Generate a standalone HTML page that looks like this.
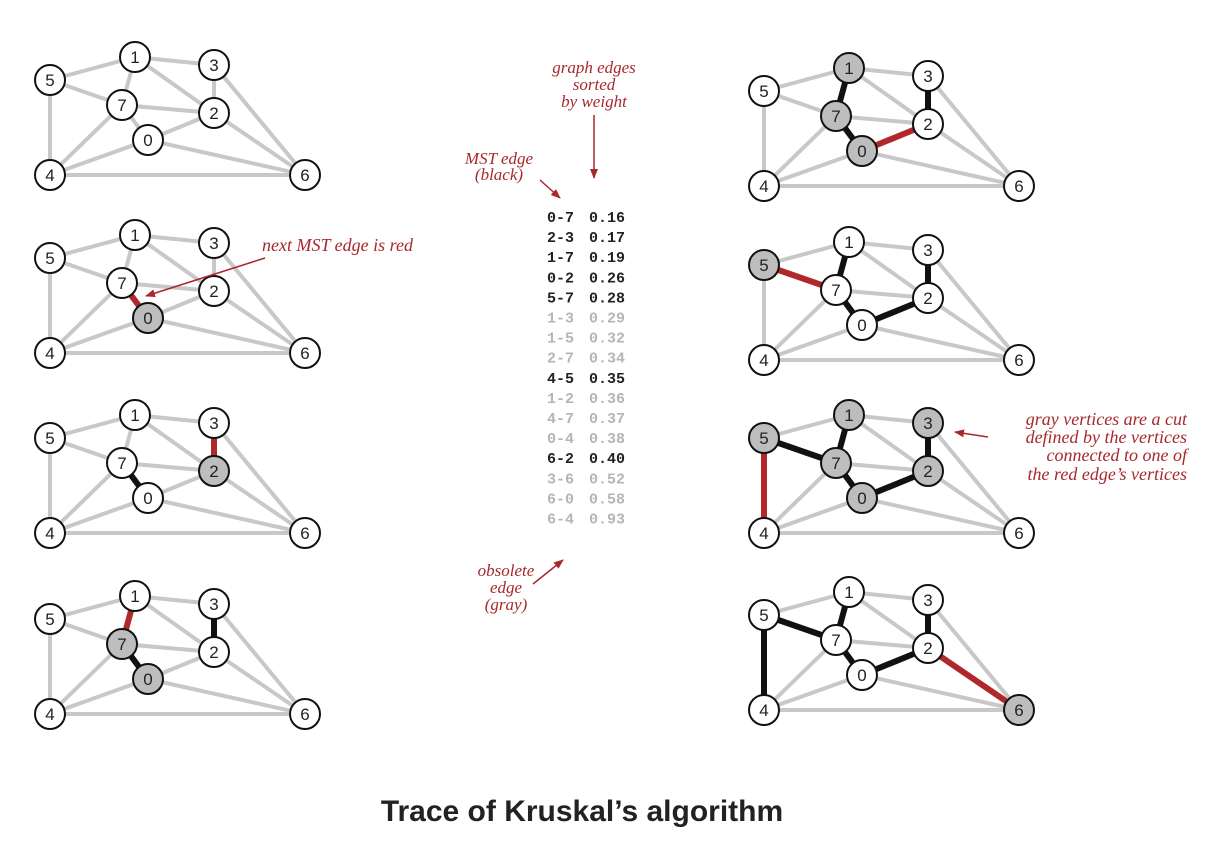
<!DOCTYPE html>
<html><head><meta charset="utf-8"><style>
body{margin:0;background:#fff;width:1214px;height:850px;overflow:hidden}
svg text{font-family:"Liberation Sans",sans-serif}
svg text.it{font-family:"Liberation Serif",serif;font-style:italic;fill:#a8282c;font-size:17px}
svg .tb text{font-family:"Liberation Mono",monospace;font-size:15px;font-weight:bold}
</style></head><body>
<svg width="1214" height="850" viewBox="0 0 1214 850" xmlns="http://www.w3.org/2000/svg">
<defs><marker id="ar" markerWidth="10" markerHeight="10" refX="9" refY="5" orient="auto" markerUnits="userSpaceOnUse"><path d="M0,1 L10,5 L0,9 z" fill="#a8282c"/></marker></defs>
<g id="g"></g>
<g fill="#a8282c">
<text class="it" x="594" y="73" text-anchor="middle">graph edges</text>
<text class="it" x="594" y="90" text-anchor="middle">sorted</text>
<text class="it" x="594" y="107" text-anchor="middle">by weight</text>
<text class="it" x="499" y="164" text-anchor="middle">MST edge</text>
<text class="it" x="499" y="180" text-anchor="middle">(black)</text>
<text class="it" x="506" y="576" text-anchor="middle">obsolete</text>
<text class="it" x="506" y="593" text-anchor="middle">edge</text>
<text class="it" x="506" y="610" text-anchor="middle">(gray)</text>
<text class="it" x="262" y="251" style="font-size:18px">next MST edge is red</text>
<text class="it" x="1187" y="425" text-anchor="end" style="font-size:18px">gray vertices are a cut</text>
<text class="it" x="1187" y="443" text-anchor="end" style="font-size:18px">defined by the vertices</text>
<text class="it" x="1187" y="461" text-anchor="end" style="font-size:18px">connected to one of</text>
<text class="it" x="1187" y="480" text-anchor="end" style="font-size:18px">the red edge’s vertices</text>
</g>
<g stroke="#a8282c" stroke-width="1.5" fill="none" marker-end="url(#ar)">
<line x1="594" y1="115" x2="594" y2="178"/>
<line x1="540" y1="180" x2="560" y2="198"/>
<line x1="533" y1="584" x2="563" y2="560"/>
<line x1="265" y1="258" x2="146" y2="296"/>
<line x1="988" y1="437" x2="955" y2="432"/>
</g>
<g id="tbl" class="tb"></g>
<text x="582" y="821" text-anchor="middle" style="font-size:30px;font-weight:bold;fill:#222">Trace of Kruskal’s algorithm</text>
</svg>
<script>
var N={0:[148,140],1:[135,57],2:[214,113],3:[214,65],4:[50,175],5:[50,80],6:[305,175],7:[122,105]};
var E=[[1,5],[1,3],[1,7],[1,2],[5,7],[5,4],[7,2],[7,0],[7,4],[0,2],[0,4],[0,6],[2,3],[2,6],[3,6],[4,6]];
function k(a,b){return a<b?a+"-"+b:b+"-"+a}
var P=[
[0,0,[],null,[]],
[0,178,[],"0-7",[0]],
[0,358,["0-7"],"2-3",[2]],
[0,539,["0-7","2-3"],"1-7",[7,0]],
[714,11,["0-7","2-3","1-7"],"0-2",[1,7,0]],
[714,185,["0-7","2-3","1-7","0-2"],"5-7",[5]],
[714,358,["0-7","2-3","1-7","0-2","5-7"],"4-5",[5,1,7,0,2,3]],
[714,535,["0-7","2-3","1-7","0-2","5-7","4-5"],"2-6",[6]]];
var s="";
P.forEach(function(p){var dx=p[0],dy=p[1];
E.forEach(function(e){var key=k(e[0],e[1]),a=N[e[0]],b=N[e[1]];
var c="#c8c8c8",w=4;if(p[2].indexOf(key)>=0){c="#111";w=6}if(p[3]==key){c="#b0282c";w=6}
s+='<line x1="'+(a[0]+dx)+'" y1="'+(a[1]+dy)+'" x2="'+(b[0]+dx)+'" y2="'+(b[1]+dy)+'" stroke="'+c+'" stroke-width="'+w+'"/>';});
for(var i=0;i<8;i++){var n=N[i];var f=p[4].indexOf(i)>=0?"#bdbdbd":"#fff";
s+='<circle cx="'+(n[0]+dx)+'" cy="'+(n[1]+dy)+'" r="15" fill="'+f+'" stroke="#111" stroke-width="2"/>';
s+='<text x="'+(n[0]+dx)+'" y="'+(n[1]+dy+6)+'" text-anchor="middle" font-size="17" fill="#222">'+i+'</text>';}
});
document.getElementById("g").innerHTML=s;
var T=[["0-7","0.16",1],["2-3","0.17",1],["1-7","0.19",1],["0-2","0.26",1],["5-7","0.28",1],["1-3","0.29",0],["1-5","0.32",0],["2-7","0.34",0],["4-5","0.35",1],["1-2","0.36",0],["4-7","0.37",0],["0-4","0.38",0],["6-2","0.40",1],["3-6","0.52",0],["6-0","0.58",0],["6-4","0.93",0]];
var t="";T.forEach(function(r,i){var y=222+i*20.1;var c=r[2]?"#222":"#b5b5b5";
t+='<text x="547" y="'+y+'" fill="'+c+'">'+r[0]+'</text><text x="589" y="'+y+'" fill="'+c+'">'+r[1]+'</text>';});
document.getElementById("tbl").innerHTML=t;
</script>
</body></html>
